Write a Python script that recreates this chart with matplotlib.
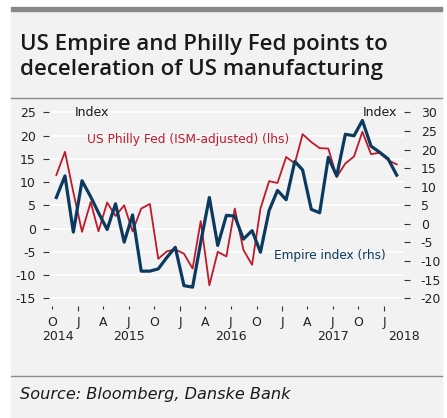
import matplotlib
matplotlib.use('Agg')
import matplotlib.pyplot as plt
import matplotlib.dates as mdates
import pandas as pd
from matplotlib.patches import Rectangle
from matplotlib.lines import Line2D
from matplotlib.transforms import blended_transform_factory

plt.rcParams['font.family'] = 'DejaVu Sans'
plt.rcParams['axes.unicode_minus'] = False

# monthly readings, Oct 2014 - Feb 2018 (plotted mid-month)
maaneder = pd.date_range('2014-10-01', '2018-02-01', freq='MS') + pd.Timedelta(days=14)

philly = [11.5, 16.5, 7.8, -0.7, 5.7, -0.6, 5.6, 2.7, 5.0, -0.6,
          4.3, 5.3, -6.5, -4.9, -4.5, -5.4, -8.6, 1.6, -12.2, -5.0,
          -6.0, 4.3, -4.6, -7.8, 4.3, 10.2, 9.8, 15.4, 14.0, 20.3,
          18.6, 17.3, 17.2, 11.1, 14.0, 15.5, 20.8, 16.0, 16.3, 14.7,
          13.8]

empire = [7.1, 12.9, -2.2, 11.6, 7.3, 3.0, -1.5, 5.4, -4.9, 2.4,
          -12.7, -12.7, -12.1, -9.0, -6.3, -16.6, -17.0, -5.0, 7.1, -5.8,
          2.3, 2.1, -4.1, -1.8, -7.6, 3.6, 9.0, 6.5, 16.8, 14.5,
          3.9, 3.0, 17.9, 12.9, 24.1, 23.7, 27.8, 20.9, 19.3, 17.5,
          13.1]

# kvartalsticks: januar (lange) og de andre kvartaler (korte)
jan_ticks = pd.to_datetime(['2015-01-01', '2016-01-01', '2017-01-01', '2018-01-01'])
jan_labels = ['J', 'J', 'J', 'J']
kv_ticks = pd.to_datetime(['2014-10-01', '2015-04-01', '2015-07-01', '2015-10-01',
                           '2016-04-01', '2016-07-01', '2016-10-01',
                           '2017-04-01', '2017-07-01', '2017-10-01'])
kv_labels = ['O', 'A', 'J', 'O', 'A', 'J', 'O', 'A', 'J', 'O']
aar = ['2014', '2015', '2016', '2017', '2018']
aar_pos = pd.to_datetime(['2014-10-20', '2015-07-01', '2016-07-01', '2017-07-01', '2018-03-12'])

left_ticks = [25, 20, 15, 10, 5, 0, -5, -10, -15]
right_ticks = [30, 25, 20, 15, 10, 5, 0, -5, -10, -15, -20]

bla = '#0b3a5e'
rod = '#c0192c'
bg = '#f2f2f2'
tekst = '#1a1a1a'
W, H = 447, 418

fig = plt.figure(figsize=(W / 100, H / 100), dpi=100)
fig.patch.set_facecolor('white')

# baggrund, topbjaelke og skillelinjer
fig.add_artist(Rectangle((11 / W, 0), 431 / W, 1 - 10.5 / H, transform=fig.transFigure,
                         color=bg, zorder=-2))
fig.add_artist(Rectangle((11 / W, 1 - 10.7 / H), 431 / W, 4 / H, transform=fig.transFigure,
                         color='#888888', zorder=-1))
for yy in [97.5, 376]:
    fig.add_artist(Line2D([11 / W, 442 / W], [1 - yy / H, 1 - yy / H], transform=fig.transFigure,
                          color='#8a8a8a', lw=1))

fig.text(19.5 / W, 1 - 50 / H, 'US Empire and Philly Fed points to', fontsize=16,
         family='Open Sans', weight='semibold', va='baseline', ha='left', color=tekst)
fig.text(19.5 / W, 1 - 74.5 / H, 'deceleration of US manufacturing', fontsize=16,
         family='Open Sans', weight='semibold', va='baseline', ha='left', color=tekst)
fig.text(20.5 / W, 1 - 395 / H, 'Source: Bloomberg, Danske Bank', fontsize=11.6,
         style='italic', va='center', ha='left', color=tekst)

ax = fig.add_axes([48.5 / W, 1 - 306 / H, (404 - 48.5) / W, 206 / H])
ax.set_facecolor('none')
ax2 = ax.twinx()

ax.plot(maaneder, philly, color=rod, lw=1.3)
ax2.plot(maaneder, empire, color=bla, lw=2.3)

lo, hi = -16.66, 27.65
ax.set_ylim(lo, hi)
ax2.set_ylim(1.25 * lo - 1.25, 1.25 * hi - 1.25)
ax.set_xlim(pd.Timestamp('2014-09-17'), pd.Timestamp('2018-03-13'))

ax.set_yticks(left_ticks)
ax2.set_yticks(right_ticks)
ax.grid(axis='y', color='white', lw=1.2)
ax.set_axisbelow(True)

for a in (ax, ax2):
    for s in a.spines.values():
        s.set_visible(False)

ax.tick_params(axis='y', length=4, width=0.8, color='#333333', labelsize=9,
               pad=5, labelcolor='#222222')
ax2.tick_params(axis='y', length=4, width=0.8, color='#333333', labelsize=9,
                pad=8, labelcolor='#222222')
ax.set_xticks(jan_ticks)
ax.set_xticklabels(jan_labels)
ax.set_xticks(kv_ticks, minor=True)
ax.set_xticklabels(kv_labels, minor=True)
ax.tick_params(axis='x', which='major', length=3.5, width=0.8, color='#333333',
               labelsize=9, pad=3.5, labelcolor='#222222')
ax.tick_params(axis='x', which='minor', length=2, width=0.8, color='#333333',
               labelsize=9, pad=5, labelcolor='#222222')

trans = blended_transform_factory(ax.transData, fig.transFigure)
for lab, p in zip(aar, aar_pos):
    ax.text(mdates.date2num(p), 1 - 336 / H, lab, transform=trans, ha='center',
            va='center', fontsize=9, color='#222222')

fig.text(75 / W, 1 - 112 / H, 'Index', fontsize=9, va='center', ha='left', color=tekst)
fig.text(397 / W, 1 - 113 / H, 'Index', fontsize=9, va='center', ha='right', color=tekst)
fig.text(87 / W, 1 - 139 / H, 'US Philly Fed (ISM-adjusted) (lhs)', fontsize=8.8,
         va='center', ha='left', color=rod)
fig.text(273.5 / W, 1 - 255 / H, 'Empire index (rhs)', fontsize=8.7,
         va='center', ha='left', color=bla)

plt.savefig('out.png', dpi=100)
